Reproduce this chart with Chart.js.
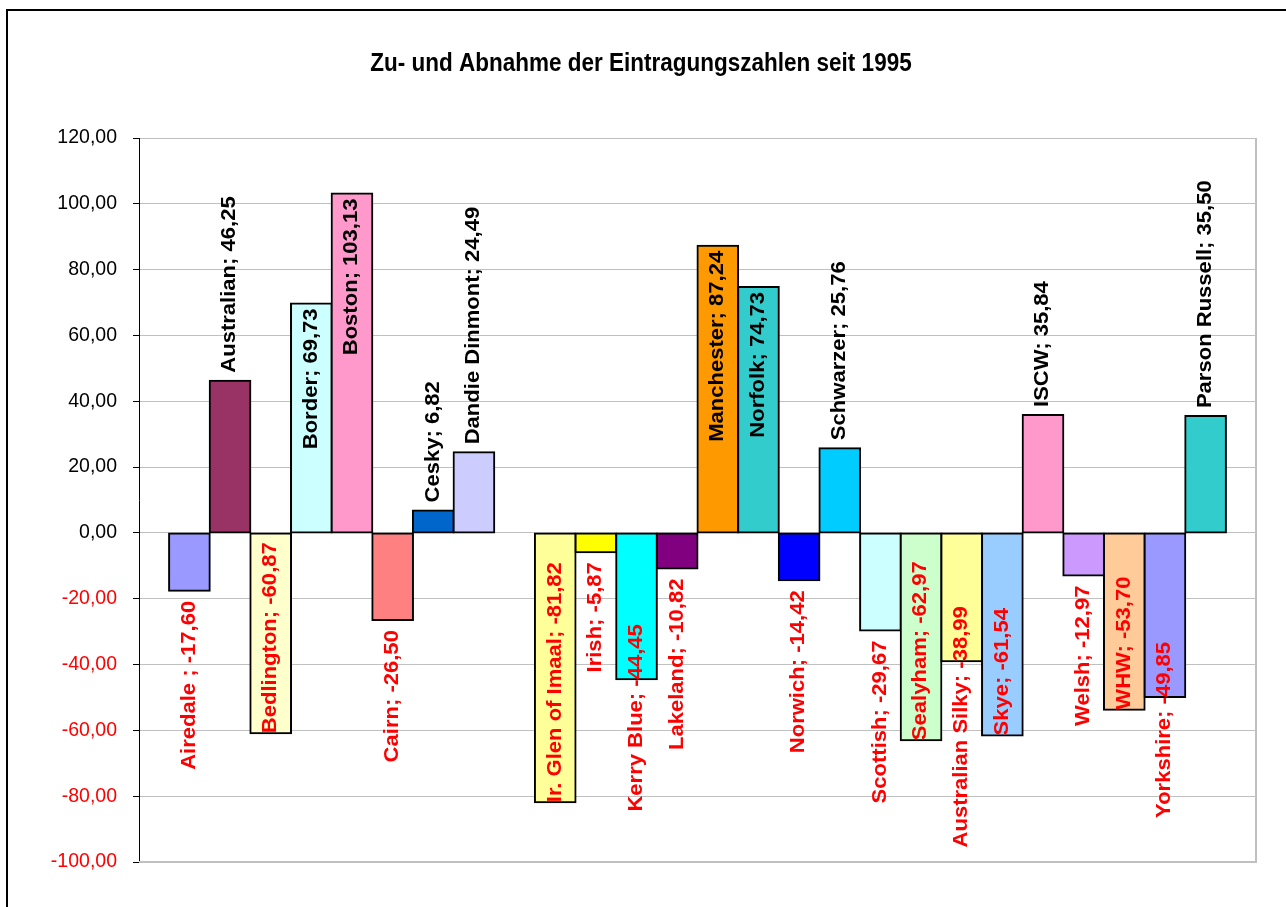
<!DOCTYPE html>
<html lang="de">
<head>
<meta charset="utf-8">
<title>Zu- und Abnahme der Eintragungszahlen seit 1995</title>
<script src="https://cdn.jsdelivr.net/npm/chart.js@4.4.1/dist/chart.umd.min.js"></script>
<style>
    html, body { margin: 0; padding: 0; background: #ffffff; }
    canvas { display: block; }
</style>
</head>
<body>
<canvas id="registrationChart" width="1286" height="907"></canvas>
<script>
// ============================================
// DATA
// ============================================

const chartTitle = "Zu- und Abnahme der Eintragungszahlen seit 1995";

// "" = empty slot between the two groups
const breeds = [
    "Airedale ", "Australian", "Bedlington", "Border", "Boston",
    "Cairn", "Cesky", "Dandie Dinmont", "",
    "Ir. Glen of Imaal", "Irish", "Kerry Blue", "Lakeland", "Manchester",
    "Norfolk", "Norwich", "Schwarzer", "Scottish", "Sealyham",
    "Australian Silky", "Skye", "ISCW", "Welsh", "WHW",
    "Yorkshire", "Parson Russell"
];

const changes = [
    -17.60, 46.25, -60.87, 69.73, 103.13,
    -26.50, 6.82, 24.49, null,
    -81.82, -5.87, -44.45, -10.82, 87.24,
    74.73, -14.42, 25.76, -29.67, -62.97,
    -38.99, -61.54, 35.84, -12.97, -53.70,
    -49.85, 35.50
];

const yTicks = [-100, -80, -60, -40, -20, 0, 20, 40, 60, 80, 100, 120];


// ============================================
// STYLE
// ============================================

const barColors = [
    "#9999FF", "#993366", "#FFFFCC", "#CCFFFF", "#FF99CC",
    "#FF8080", "#0066CC", "#CCCCFF", null,
    "#FFFF99", "#FFFF00", "#00FFFF", "#800080", "#FF9900",
    "#33CCCC", "#0000FF", "#00CCFF", "#CCFFFF", "#CCFFCC",
    "#FFFF99", "#99CCFF", "#FF99CC", "#CC99FF", "#FFCC99",
    "#9999FF", "#33CCCC"
];

const fontFamily = '"Liberation Sans", Arial, sans-serif';
const stretch = 1.13;      // picture is a bit taller than wide
const sidePad = 0.74;      // empty space left/right of the bars, in slots

function fmt(v) {
    return v.toFixed(2).replace(".", ",");
}

const points = [];
const colors = [];
breeds.forEach(function (name, i) {
    if (changes[i] === null) return;
    points.push({ x: i, y: changes[i], name: name });
    colors.push(barColors[i]);
});


// ============================================
// PLUGINS
// ============================================

// frame + title
const frame = {
    id: "frame",
    beforeDraw(chart) {
        const ctx = chart.ctx;
        ctx.save();
        ctx.fillStyle = "#ffffff";
        ctx.fillRect(0, 0, chart.width, chart.height);
        ctx.strokeStyle = "#000000";
        ctx.lineWidth = 2;
        ctx.strokeRect(7, 10, chart.width + 50, chart.height + 50);

        ctx.translate(chart.width / 2 - 2, 71);
        ctx.scale(1, stretch);
        ctx.font = "bold 22.5px " + fontFamily;
        ctx.fillStyle = "#000000";
        ctx.textAlign = "center";
        ctx.textBaseline = "alphabetic";
        ctx.fillText(chartTitle, 0, 0);
        ctx.restore();
    },
    beforeDatasetsDraw(chart) {
        const ctx = chart.ctx;
        const a = chart.chartArea;
        ctx.save();
        ctx.strokeStyle = "#C0C0C0";
        ctx.lineWidth = 2;
        ctx.beginPath();
        ctx.moveTo(a.left, a.bottom);
        ctx.lineTo(a.right, a.bottom);
        ctx.lineTo(a.right, a.top);
        ctx.stroke();
        ctx.restore();
    }
};

// vertical "Name; value" labels
const barLabels = {
    id: "barLabels",
    afterDatasetsDraw(chart) {
        const ctx = chart.ctx;
        const area = chart.chartArea;
        const zeroY = chart.scales.y.getPixelForValue(0);
        const meta = chart.getDatasetMeta(0);

        ctx.save();
        ctx.font = "bold 19.5px " + fontFamily;
        ctx.textAlign = "left";
        ctx.textBaseline = "middle";

        meta.data.forEach(function (bar, i) {
            const p = chart.data.datasets[0].data[i];
            const text = p.name + "; " + fmt(p.y);
            const len = ctx.measureText(text).width * stretch;
            let start;

            if (p.y >= 0) {
                start = bar.y - 8;
                if (start - len < area.top + 30) start = bar.y + 5 + len;
            } else {
                start = bar.y + 10 + len;
                if (start > area.bottom - 20) {
                    start = bar.y;
                    if (start - len < zeroY + 2) {
                        start = Math.min(bar.y - 55 + len, area.bottom - 8);
                    }
                }
            }

            ctx.save();
            ctx.translate(bar.x, start);
            ctx.rotate(-Math.PI / 2);
            ctx.scale(stretch, 1);
            ctx.fillStyle = p.y < 0 ? "#FF0000" : "#000000";
            ctx.fillText(text, 0, 0);
            ctx.restore();
        });
        ctx.restore();
    }
};


// ============================================
// CHART
// ============================================

const registrationChart = new Chart(
    document.getElementById("registrationChart"),
    {
        type: "bar",

        data: {
            datasets: [{
                data: points,
                backgroundColor: colors,
                borderColor: "#000000",
                borderWidth: 2,
                borderSkipped: false,
                inflateAmount: 1,
                barPercentage: 1,
                categoryPercentage: 1
            }]
        },

        options: {
            responsive: false,
            animation: false,
            layout: {
                padding: { top: 138, right: 30, bottom: 45, left: 0 }
            },
            plugins: {
                legend: { display: false },
                title: { display: false },
                tooltip: { enabled: false }
            },
            scales: {
                x: {
                    type: "linear",
                    display: false,
                    offset: false,
                    min: -0.5 - sidePad,
                    max: breeds.length - 0.5 + sidePad,
                    afterBuildTicks: function (s) { s.ticks = [{ value: 0 }]; }
                },
                y: {
                    min: yTicks[0],
                    max: yTicks[yTicks.length - 1],
                    afterBuildTicks: function (s) {
                        s.ticks = yTicks.map(function (v) { return { value: v }; });
                    },
                    afterFit: function (s) { s.width = 139; },
                    ticks: {
                        padding: 16,
                        font: { family: fontFamily, size: 19.5 },
                        color: function (c) { return c.tick.value < 0 ? "#FF0000" : "#000000"; },
                        callback: function (v) { return fmt(v); }
                    },
                    grid: {
                        color: "#C0C0C0",
                        lineWidth: 1,
                        tickLength: 6,
                        tickColor: "#000000"
                    },
                    border: { color: "#000000", width: 1 }
                }
            }
        },

        plugins: [frame, barLabels]
    }
);
</script>
</body>
</html>
